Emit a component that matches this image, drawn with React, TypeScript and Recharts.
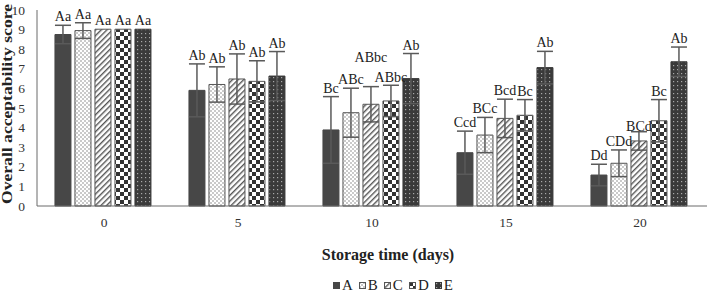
import React from 'react';
import { BarChart, Bar, XAxis, YAxis, ErrorBar, LabelList } from 'recharts';

// Storage days on the category axis
const days = ['0', '5', '10', '15', '20'];
const seriesKeys = ['A', 'B', 'C', 'D', 'E'];

// Mean overall acceptability scores per treatment
const meanA = [8.75, 5.9, 3.88, 2.72, 1.58];
const meanB = [8.95, 6.2, 4.76, 3.62, 2.18];
const meanC = [9.02, 6.48, 5.19, 4.47, 3.32];
const meanD = [9.02, 6.36, 5.36, 4.63, 4.35];
const meanE = [9.02, 6.63, 6.5, 7.06, 7.36];

// Standard deviations
const sdA = [0.47, 1.35, 1.7, 1.1, 0.55];
const sdB = [0.4, 0.9, 1.25, 0.9, 0.68];
const sdC = [0, 1.28, 0.9, 0.98, 0.47];
const sdD = [0, 1.05, 0.8, 0.8, 1.08];
const sdE = [0, 1.25, 1.28, 0.83, 0.75];

// Significance letters
const lettersA = ['Aa', 'Ab', 'Bc', 'Ccd', 'Dd'];
const lettersB = ['Aa', 'Ab', 'ABc', 'BCc', 'CDd'];
const lettersC = ['Aa', 'Ab', 'ABbc', 'Bcd', 'BCd'];
const lettersD = ['Aa', 'Ab', 'ABbc', 'Bc', 'Bc'];
const lettersE = ['Aa', 'Ab', 'Ab', 'Ab', 'Ab'];

const yTicks = [0, 1, 2, 3, 4, 5, 6, 7, 8, 9, 10];

const means: Record<string, number[]> = { A: meanA, B: meanB, C: meanC, D: meanD, E: meanE };
const sds: Record<string, number[]> = { A: sdA, B: sdB, C: sdC, D: sdD, E: sdE };
const letters: Record<string, string[]> = { A: lettersA, B: lettersB, C: lettersC, D: lettersD, E: lettersE };

const data = days.map((day, i) => {
  const row: Record<string, any> = { day };
  seriesKeys.forEach((k) => {
    row[k] = means[k][i];
    row[`${k}_sd`] = sds[k][i];
  });
  return row;
});

const SERIF = "'Liberation Serif', 'Times New Roman', serif";

const fills: Record<string, string> = {
  A: '#474747',
  B: 'url(#patB)',
  C: 'url(#patC)',
  D: 'url(#patD)',
  E: 'url(#patE)',
};
const strokes: Record<string, string> = {
  A: '#474747',
  B: '#555555',
  C: '#555555',
  D: '#555555',
  E: '#3a3a3a',
};

// Small vertical nudges so crowded letter labels don't collide
const labelNudge: Record<string, number> = {
  C2: -21,
  C4: 3,
  D2: 1,
};

const makeLabel = (key: string) => (props: any) => {
  const vb = props.viewBox ?? props;
  const x = Number(vb.x ?? props.x);
  const y = Number(vb.y ?? props.y);
  const width = Number(vb.width ?? props.width);
  const height = Number(vb.height ?? props.height);
  const index = props.index;
  const value = means[key][index];
  const pxPerUnit = height / value;
  const top = y - sds[key][index] * pxPerUnit;
  const nudge = labelNudge[`${key}${index}`] ?? 0;
  return (
    <text
      x={x + width / 2}
      y={top - 4 + nudge}
      textAnchor="middle"
      fontFamily={SERIF}
      fontSize={14}
      fill="#222"
    >
      {letters[key][index]}
    </text>
  );
};

const XTick = (props: any) => {
  const { x, y, payload } = props;
  return (
    <text x={x} y={y + 9} textAnchor="middle" fontFamily={SERIF} fontSize={13.5} fill="#333">
      {payload.value}
    </text>
  );
};

const YTick = (props: any) => {
  const { x, y, payload } = props;
  return (
    <text x={x} y={y + 4.5} textAnchor="end" fontFamily={SERIF} fontSize={13.5} fill="#333">
      {payload.value}
    </text>
  );
};

const LegendSwatch = ({ k }: { k: string }) => (
  <svg width={7} height={7} style={{ display: 'block' }}>
    <rect x={0.5} y={0.5} width={6} height={6} fill={fills[k]} stroke={strokes[k]} strokeWidth={1} />
  </svg>
);

export default function App() {
  return (
    <div style={{ position: 'absolute', left: 0, top: 0, width: 709, height: 294, background: '#fff' }}>
      <BarChart
        width={709}
        height={294}
        data={data}
        margin={{ top: 10, right: 2, bottom: 0, left: 0 }}
        barCategoryGap="13.4%"
        barGap={4}
      >
        <defs>
          <pattern id="patB" width={4} height={4} patternUnits="userSpaceOnUse">
            <rect width={4} height={4} fill="#ffffff" />
            <circle cx={1} cy={1} r={0.75} fill="#7a7a7a" />
            <circle cx={3} cy={3} r={0.75} fill="#7a7a7a" />
          </pattern>
          <pattern id="patC" width={4} height={4} patternUnits="userSpaceOnUse" patternTransform="rotate(45)">
            <rect width={4} height={4} fill="#ffffff" />
            <rect x={0} y={0} width={1.4} height={4} fill="#555555" />
          </pattern>
          <pattern id="patD" width={8} height={8} patternUnits="userSpaceOnUse">
            <rect width={8} height={8} fill="#ffffff" />
            <rect x={0} y={0} width={4} height={4} fill="#333333" />
            <rect x={4} y={4} width={4} height={4} fill="#333333" />
          </pattern>
          <pattern id="patE" width={4} height={4} patternUnits="userSpaceOnUse">
            <rect width={4} height={4} fill="#3a3a3a" />
            <rect x={1} y={1} width={1.2} height={1.2} fill="#a8a8a8" />
          </pattern>
        </defs>
        <XAxis
          dataKey="day"
          height={88}
          axisLine={{ stroke: '#6b6b6b', strokeWidth: 1 }}
          tickLine={false}
          tickSize={0}
          tickMargin={12}
          tick={<XTick />}
          label={{
            content: (p: any) => {
              const vb = p.viewBox;
              return (
                <text
                  x={vb.x + vb.width / 2 + 16}
                  y={vb.y + 53.5}
                  textAnchor="middle"
                  fontFamily={SERIF}
                  fontWeight="bold"
                  fontSize={16}
                  fill="#222"
                >
                  Storage time (days)
                </text>
              );
            },
          }}
        />
        <YAxis
          domain={[0, 10]}
          ticks={yTicks}
          interval={0}
          width={37}
          axisLine={{ stroke: '#6b6b6b', strokeWidth: 1 }}
          tickLine={false}
          tickSize={0}
          tickMargin={12}
          tick={<YTick />}
          label={{
            content: (p: any) => {
              const vb = p.viewBox;
              const cx = vb.x + 12;
              const cy = vb.y + vb.height / 2 - 4;
              return (
                <text
                  x={cx}
                  y={cy}
                  transform={`rotate(-90 ${cx} ${cy})`}
                  textAnchor="middle"
                  fontFamily={SERIF}
                  fontWeight="bold"
                  fontSize={14.5}
                  fill="#222"
                  textLength={200}
                  lengthAdjust="spacingAndGlyphs"
                >
                  Overall acceptability score
                </text>
              );
            },
          }}
        />
        {seriesKeys.map((k) => (
          <Bar key={k} dataKey={k} fill={fills[k]} stroke={strokes[k]} strokeWidth={1} isAnimationActive={false}>
            <ErrorBar dataKey={`${k}_sd`} width={8} stroke="#5a5a5a" strokeWidth={1.5} />
            <LabelList dataKey={k} content={makeLabel(k)} />
          </Bar>
        ))}
      </BarChart>
      <div
        style={{
          position: 'absolute',
          left: 333,
          top: 277,
          display: 'flex',
          alignItems: 'center',
          fontFamily: SERIF,
          fontSize: 15,
          lineHeight: '17px',
          color: '#222',
        }}
      >
        {seriesKeys.map((k, i) => (
          <div key={k} style={{ display: 'flex', alignItems: 'center', marginRight: i < seriesKeys.length - 1 ? 6 : 0 }}>
            <LegendSwatch k={k} />
            <span style={{ marginLeft: 2 }}>{k}</span>
          </div>
        ))}
      </div>
    </div>
  );
}
